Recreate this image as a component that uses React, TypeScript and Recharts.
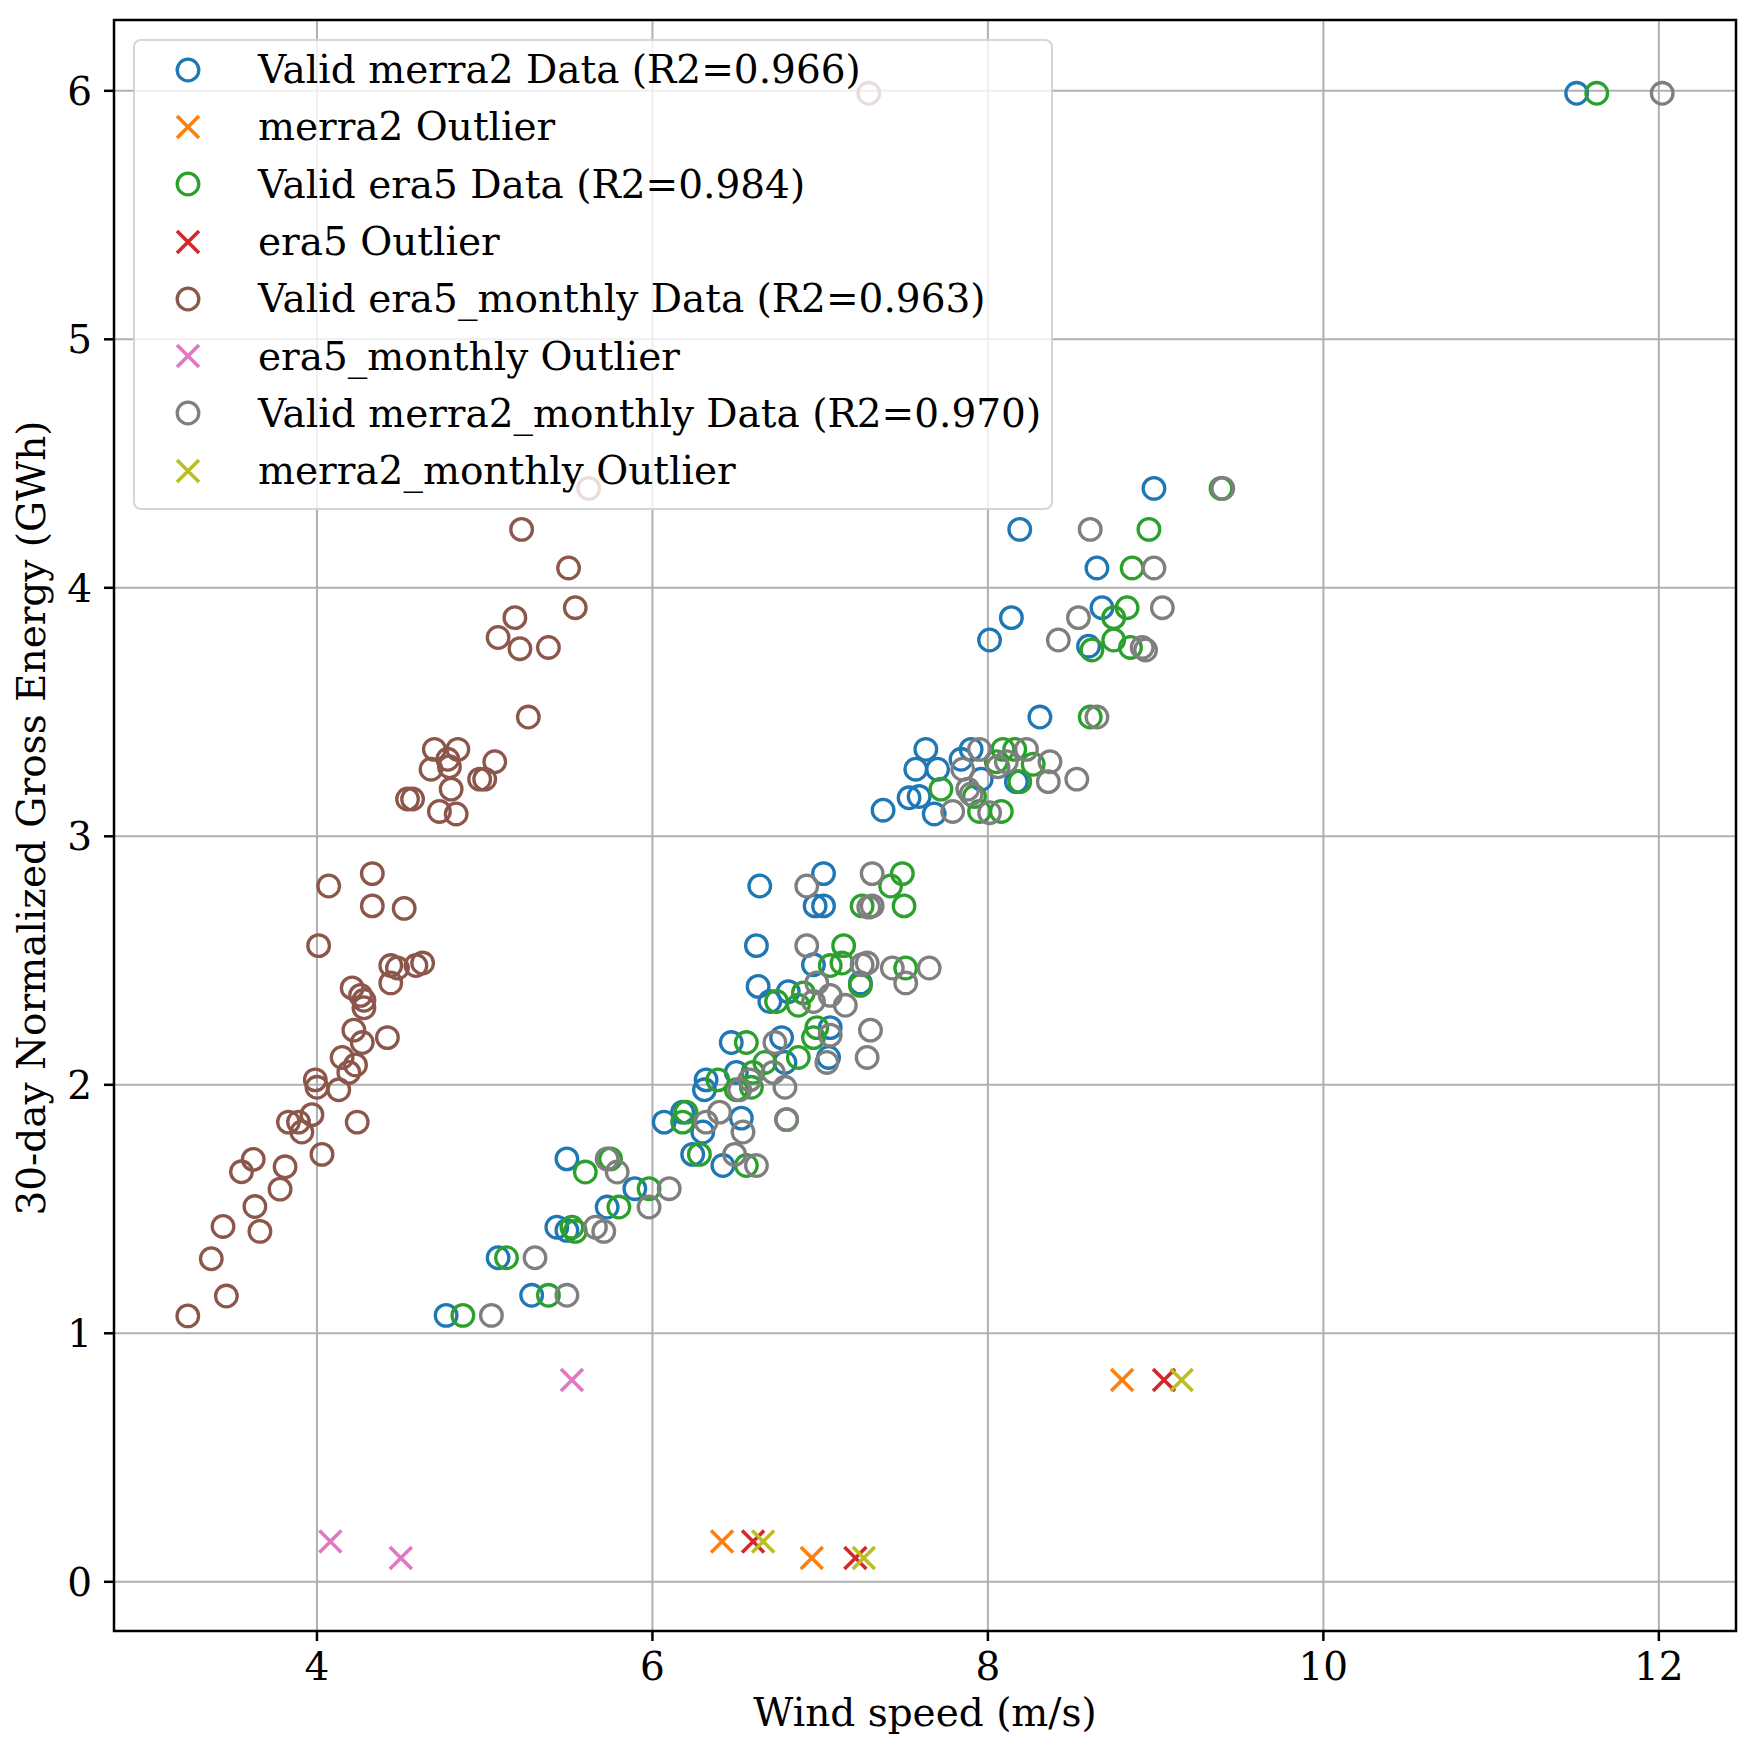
import { ScatterChart, Scatter, XAxis, YAxis, CartesianGrid, ReferenceArea } from 'recharts';

const FONT = '"DejaVu Serif", "Liberation Serif", serif';
const FS = 39;

type Pt = { x: number; y: number };
const pts = (rows: number[][]): Pt[] => rows.map(([x, y]) => ({ x, y }));

// wind speed (m/s) vs 30-day normalized gross energy (GWh)
const merra2Valid = pts([
  [4.77, 1.072], [5.28, 1.153], [5.08, 1.304], [5.43, 1.427], [5.49, 1.414], [5.73, 1.508],
  [5.895, 1.582], [5.49, 1.702], [6.07, 1.85], [6.18, 1.89], [6.3, 1.81], [6.53, 1.866],
  [6.24, 1.72], [6.42, 1.675], [6.32, 2.02], [6.31, 1.98], [6.5, 2.05], [6.47, 2.17],
  [6.77, 2.19], [6.79, 2.09], [7.06, 2.23], [7.05, 2.11], [6.7, 2.335], [6.81, 2.375],
  [6.63, 2.396], [7.24, 2.41], [6.96, 2.483], [6.62, 2.56], [6.97, 2.72], [7.02, 2.72],
  [6.64, 2.8], [7.02, 2.85], [7.375, 3.105], [7.68, 3.09], [7.53, 3.155], [7.59, 3.16],
  [7.96, 3.23], [8.17, 3.22], [7.57, 3.27], [7.7, 3.27], [7.84, 3.31], [7.63, 3.35],
  [7.9, 3.35], [8.31, 3.48], [8.6, 3.765], [8.01, 3.79], [8.14, 3.88], [8.68, 3.92],
  [8.65, 4.08], [8.19, 4.235], [8.99, 4.4], [11.51, 5.99],
]);
const merra2Outlier = pts([[8.8, 0.812], [6.415, 0.162], [6.95, 0.096]]);

const era5Valid = pts([
  [4.87, 1.072], [5.38, 1.153], [5.13, 1.304], [5.52, 1.427], [5.54, 1.41], [5.8, 1.508],
  [5.98, 1.582], [5.6, 1.649], [5.75, 1.702], [6.18, 1.85], [6.2, 1.89], [6.28, 1.72],
  [6.56, 1.675], [6.8, 1.86], [6.39, 2.02], [6.5, 1.98], [6.59, 1.99], [6.6, 2.05],
  [6.56, 2.17], [6.67, 2.09], [6.87, 2.11], [6.98, 2.23], [6.96, 2.19], [6.74, 2.335],
  [6.87, 2.32], [6.9, 2.37], [7.24, 2.4], [7.06, 2.48], [7.13, 2.49], [7.51, 2.47],
  [7.14, 2.56], [7.25, 2.72], [7.5, 2.72], [7.42, 2.8], [7.49, 2.85], [7.95, 3.1],
  [8.08, 3.1], [7.92, 3.16], [7.72, 3.19], [8.19, 3.22], [8.05, 3.3], [8.27, 3.29],
  [8.09, 3.35], [8.16, 3.35], [8.61, 3.48], [8.62, 3.75], [8.85, 3.76], [8.75, 3.79],
  [8.75, 3.88], [8.83, 3.92], [8.86, 4.08], [8.96, 4.235], [9.39, 4.4], [11.63, 5.99],
]);
const era5Outlier = pts([[9.05, 0.812], [6.6, 0.162], [7.21, 0.096]]);

const era5MonthlyValid = pts([
  [3.23, 1.07], [3.46, 1.15], [3.37, 1.3], [3.44, 1.43], [3.66, 1.41], [3.63, 1.51],
  [3.78, 1.58], [3.55, 1.65], [3.81, 1.67], [3.62, 1.7], [4.03, 1.72], [3.83, 1.85],
  [3.89, 1.85], [3.91, 1.81], [4.24, 1.85], [3.97, 1.88], [3.99, 2.02], [4.0, 1.99],
  [4.13, 1.98], [4.19, 2.05], [4.23, 2.08], [4.15, 2.11], [4.27, 2.17], [4.42, 2.19],
  [4.22, 2.22], [4.28, 2.31], [4.28, 2.34], [4.26, 2.36], [4.21, 2.39], [4.44, 2.41],
  [4.44, 2.48], [4.48, 2.47], [4.59, 2.48], [4.63, 2.49], [4.01, 2.56], [4.33, 2.72],
  [4.52, 2.71], [4.07, 2.8], [4.33, 2.85], [4.73, 3.1], [4.83, 3.09], [4.54, 3.15],
  [4.57, 3.15], [4.8, 3.19], [4.97, 3.23], [5.0, 3.23], [4.68, 3.27], [4.79, 3.28],
  [4.78, 3.31], [5.06, 3.3], [4.7, 3.35], [4.84, 3.35], [5.26, 3.48], [5.21, 3.755],
  [5.38, 3.76], [5.08, 3.8], [5.18, 3.88], [5.54, 3.92], [5.5, 4.08], [5.22, 4.235],
  [5.62, 4.4], [7.29, 5.99],
]);
const era5MonthlyOutlier = pts([[5.52, 0.812], [4.08, 0.162], [4.5, 0.096]]);

const merra2MonthlyValid = pts([
  [5.04, 1.072], [5.49, 1.153], [5.3, 1.304], [5.66, 1.427], [5.71, 1.41], [5.98, 1.508],
  [6.1, 1.582], [5.73, 1.702], [5.79, 1.649], [6.32, 1.85], [6.4, 1.89], [6.54, 1.81],
  [6.49, 1.72], [6.62, 1.675], [6.8, 1.86], [6.52, 1.98], [6.58, 2.02], [6.79, 1.99],
  [6.72, 2.05], [6.73, 2.17], [7.04, 2.09], [7.06, 2.2], [6.96, 2.335], [7.15, 2.32],
  [7.06, 2.36], [6.98, 2.41], [7.51, 2.41], [7.25, 2.483], [7.28, 2.49], [7.43, 2.47],
  [7.65, 2.47], [7.3, 2.22], [7.28, 2.11], [6.92, 2.56], [7.29, 2.715], [7.31, 2.72],
  [6.92, 2.8], [7.31, 2.85], [7.79, 3.1], [8.01, 3.095], [7.9, 3.17], [7.88, 3.19],
  [8.36, 3.22], [8.53, 3.23], [7.85, 3.27], [8.06, 3.28], [8.11, 3.3], [8.37, 3.3],
  [7.95, 3.35], [8.23, 3.35], [8.65, 3.48], [8.94, 3.75], [8.92, 3.76], [8.42, 3.79],
  [8.54, 3.88], [9.04, 3.92], [8.99, 4.08], [8.61, 4.235], [9.4, 4.4], [12.02, 5.99],
]);
const merra2MonthlyOutlier = pts([[9.155, 0.812], [6.66, 0.162], [7.26, 0.096]]);

const xTicks = [4, 6, 8, 10, 12];
const yTicks = [0, 1, 2, 3, 4, 5, 6];
const xDomain: [number, number] = [2.79, 12.46];
const yDomain: [number, number] = [-0.198, 6.285];

const series = [
  { name: 'Valid merra2 Data (R2=0.966)', data: merra2Valid, color: '#1f77b4', kind: 'o' },
  { name: 'merra2 Outlier', data: merra2Outlier, color: '#ff7f0e', kind: 'x' },
  { name: 'Valid era5 Data (R2=0.984)', data: era5Valid, color: '#2ca02c', kind: 'o' },
  { name: 'era5 Outlier', data: era5Outlier, color: '#d62728', kind: 'x' },
  { name: 'Valid era5_monthly Data (R2=0.963)', data: era5MonthlyValid, color: '#8c564b', kind: 'o' },
  { name: 'era5_monthly Outlier', data: era5MonthlyOutlier, color: '#e377c2', kind: 'x' },
  { name: 'Valid merra2_monthly Data (R2=0.970)', data: merra2MonthlyValid, color: '#7f7f7f', kind: 'o' },
  { name: 'merra2_monthly Outlier', data: merra2MonthlyOutlier, color: '#bcbd22', kind: 'x' },
];

const R = 10.8;
const H = 11;

function Marker({ cx, cy, color, kind }: { cx: number; cy: number; color: string; kind: string }) {
  if (kind === 'o') {
    return <circle cx={cx} cy={cy} r={R} fill="none" stroke={color} strokeWidth={3.3} />;
  }
  return (
    <path
      d={`M${cx - H},${cy - H}L${cx + H},${cy + H}M${cx - H},${cy + H}L${cx + H},${cy - H}`}
      stroke={color}
      strokeWidth={3.6}
      fill="none"
    />
  );
}

const tickStyle = { fontSize: FS, fill: '#000', fontFamily: FONT };

export default function App() {
  return (
    <div style={{ position: 'absolute', left: 0, top: 0, width: 1755, height: 1756, background: '#fff' }}>
      <ScatterChart width={1755} height={1756} margin={{ top: 20, right: 19, bottom: 0, left: 0 }}>
        <CartesianGrid stroke="#b0b0b0" strokeWidth={2} />
        <XAxis
          type="number"
          dataKey="x"
          domain={xDomain}
          ticks={xTicks}
          allowDataOverflow
          height={125}
          axisLine={false}
          tickLine={{ stroke: '#000', strokeWidth: 2.5 }}
          tickSize={10}
          tickMargin={11}
          tick={tickStyle}
          label={{
            value: 'Wind speed (m/s)',
            position: 'insideBottom',
            offset: 30,
            fill: '#000',
            fontSize: FS,
            fontFamily: FONT,
          }}
        />
        <YAxis
          type="number"
          dataKey="y"
          domain={yDomain}
          ticks={yTicks}
          allowDataOverflow
          width={114}
          axisLine={false}
          tickLine={{ stroke: '#000', strokeWidth: 2.5 }}
          tickSize={10}
          tickMargin={12}
          tick={tickStyle}
          label={() => (
            <text
              x={45}
              y={818}
              transform="rotate(-90, 45, 818)"
              textAnchor="middle"
              fill="#000"
              fontSize={FS}
              fontFamily={FONT}
            >
              30-day Normalized Gross Energy (GWh)
            </text>
          )}
        />
        {series.map((s) => (
          <Scatter
            key={s.name}
            name={s.name}
            data={s.data}
            isAnimationActive={false}
            shape={(p: any) => <Marker cx={p.cx} cy={p.cy} color={s.color} kind={s.kind} />}
          />
        ))}
        <ReferenceArea
          x1={xDomain[0]}
          x2={xDomain[1]}
          y1={yDomain[0]}
          y2={yDomain[1]}
          fill="none"
          stroke="#000"
          strokeWidth={2.5}
          ifOverflow="visible"
        />
      </ScatterChart>

      <div
        style={{
          position: 'absolute',
          left: 133,
          top: 39,
          width: 920,
          height: 471,
          boxSizing: 'border-box',
          background: 'rgba(255,255,255,0.8)',
          border: '2px solid rgba(204,204,204,0.8)',
          borderRadius: 8,
          paddingTop: 0,
          fontFamily: FONT,
          fontSize: FS,
          color: '#000',
        }}
      >
        {series.map((s) => (
          <div key={s.name} style={{ display: 'flex', alignItems: 'center', height: 57.3 }}>
            <svg width={123} height={40} style={{ flex: 'none' }}>
              <Marker cx={53} cy={20} color={s.color} kind={s.kind} />
            </svg>
            <span style={{ whiteSpace: 'nowrap', lineHeight: 1 }}>{s.name}</span>
          </div>
        ))}
      </div>
    </div>
  );
}
